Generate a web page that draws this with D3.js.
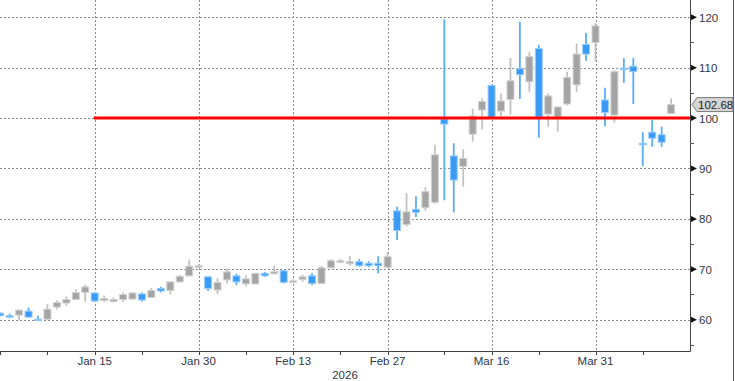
<!DOCTYPE html>
<html><head><meta charset="utf-8">
<script src="https://cdn.jsdelivr.net/npm/d3@7"></script>
<style>
html,body{margin:0;padding:0;background:#fff;}
svg{display:block;font-family:"Liberation Sans",Arial,sans-serif;}
</style></head>
<body>
<svg id="chart" width="735" height="381"></svg>
<script>
const dates = [
"2026-01-01","2026-01-02","2026-01-05","2026-01-06","2026-01-07","2026-01-08","2026-01-09","2026-01-12","2026-01-13","2026-01-14",
"2026-01-15","2026-01-16","2026-01-19","2026-01-20","2026-01-21","2026-01-22","2026-01-23","2026-01-26","2026-01-27","2026-01-28",
"2026-01-29","2026-01-30","2026-02-02","2026-02-03","2026-02-04","2026-02-05","2026-02-06","2026-02-09","2026-02-10","2026-02-11",
"2026-02-12","2026-02-13","2026-02-16","2026-02-17","2026-02-18","2026-02-19","2026-02-20","2026-02-23","2026-02-24","2026-02-25",
"2026-02-26","2026-02-27","2026-03-02","2026-03-03","2026-03-04","2026-03-05","2026-03-06","2026-03-09","2026-03-10","2026-03-11",
"2026-03-12","2026-03-13","2026-03-16","2026-03-17","2026-03-18","2026-03-19","2026-03-20","2026-03-23","2026-03-24","2026-03-25",
"2026-03-26","2026-03-27","2026-03-30","2026-03-31","2026-04-01","2026-04-02","2026-04-03","2026-04-06","2026-04-07","2026-04-08",
"2026-04-09","2026-04-10"];
const open  = [61.3,60.8,60.9,61.7,60.1,60.1,62.5,63.3,64.0,65.4, 65.3,63.8,63.6,64.0,64.1,65.1,64.4,66.2,65.8,67.5,
               68.7,70.6,68.5,65.9,67.9,68.7,67.1,67.1,69.2,69.1, 69.7,67.6,68.0,68.7,67.2,70.3,71.6,71.1,71.5,71.2,
               71.2,70.4,81.6,78.9,81.9,82.2,83.3,99.8,92.5,90.4, 96.8,101.6,106.5,101.4,103.7,109.8,107.2,113.8,100.8,100.2,
               102.8,106.6,114.6,115.0,103.6,100.6,109.9,110.3,95.0,97.2, 96.7,100.9];
const high  = [61.5,61.2,62.0,62.4,60.8,63.1,63.8,64.6,66.0,66.9, 65.4,64.8,64.4,65.4,65.5,65.4,66.3,66.5,67.6,68.9,
               71.9,71.0,68.6,68.2,70.1,69.1,68.8,69.3,69.5,70.7, 69.9,68.0,68.9,69.2,70.7,72.0,72.1,72.6,72.0,71.6,
               72.6,73.4,82.4,85.1,84.5,86.3,94.7,119.6,95.0,93.8, 101.9,103.9,106.6,104.9,111.9,119.1,113.1,114.5,104.9,102.3,
               109.2,114.8,116.9,118.8,106.0,109.5,111.9,111.9,97.2,99.6, 98.3,103.9];
const low   = [60.7,60.3,59.9,60.4,59.9,60.0,62.1,62.8,63.9,63.6, 63.6,63.5,63.4,63.5,63.9,63.6,64.3,65.4,65.0,67.4,
               68.6,70.3,65.7,65.1,67.2,66.9,66.6,67.0,68.5,69.0, 67.2,67.2,67.5,66.9,67.1,70.2,71.2,70.7,70.5,70.4,
               69.2,70.3,75.8,78.5,80.4,81.6,83.0,83.7,81.3,86.4, 95.3,97.8,99.9,100.3,100.6,103.8,105.2,96.1,98.3,97.3,
               102.5,105.2,111.4,111.2,98.4,99.1,107.0,102.8,90.5,94.3, 94.3,100.8];
const close = [60.8,60.7,61.9,60.5,59.95,62.1,63.4,64.0,65.4,66.5, 63.7,64.2,64.0,65.0,65.3,63.9,65.8,65.7,67.5,68.6,
               70.6,70.7,66.2,67.4,69.5,67.5,68.1,69.2,68.7,69.5, 67.4,67.7,68.5,67.2,70.3,71.7,71.7,71.5,70.7,70.7,
               70.7,72.5,77.7,81.4,81.3,85.4,92.7,98.8,87.7,92.0, 100.4,103.3,100.1,103.4,107.4,108.6,112.2,100.2,104.4,102.2,
               108.1,112.7,112.7,118.3,101.1,109.2,109.8,109.2,94.9,96.0, 95.2,102.68];

const majorTickDates  = ["2026-01-15","2026-01-30","2026-02-13","2026-02-27","2026-03-16","2026-03-31"];
const majorTickLabels = ["Jan 15","Jan 30","Feb 13","Feb 27","Mar 16","Mar 31"];
const minorTickDates  = ["2026-01-01","2026-01-08","2026-01-22","2026-02-06","2026-02-20","2026-03-09","2026-03-23","2026-04-07"];
const yearLabel = "2026";
const yMajorTicks = [60,70,80,90,100,110,120];
const yMinorTicks = [55,65,75,85,95,105,115];
const refLevel = [100];
const refStartDate = "2026-01-15";
const lastPrice = close[close.length-1];

const svg = d3.select("#chart");
const plotR = 690, plotB = 351;
const idx = d => dates.indexOf(d);
const x = d3.scaleLinear().domain([0, 73]).range([0.2, plotR]);
const y = d3.scaleLinear().domain([53.79, 123.43]).range([plotB, 0]);

svg.append("defs").append("clipPath").attr("id","clip")
  .append("rect").attr("x",0).attr("y",0).attr("width",plotR).attr("height",plotB);

// gridlines
const grid = svg.append("g");
grid.selectAll("line.h").data(yMajorTicks).join("line")
  .attr("x1",0).attr("x2",plotR).attr("y1",d=>Math.round(y(d))+0.5).attr("y2",d=>Math.round(y(d))+0.5)
  .attr("stroke","#8a8a8a").attr("stroke-width",1).attr("stroke-dasharray","2,2");
grid.selectAll("line.v").data(majorTickDates).join("line")
  .attr("x1",d=>Math.round(x(idx(d)))+0.5).attr("x2",d=>Math.round(x(idx(d)))+0.5).attr("y1",0).attr("y2",plotB)
  .attr("stroke","#8a8a8a").attr("stroke-width",1).attr("stroke-dasharray","2,2");

// candles
const up = i => close[i] >= open[i];
const g = svg.append("g").attr("clip-path","url(#clip)");
const ids = d3.range(dates.length);
g.selectAll("line.wick").data(ids).join("line")
  .attr("x1",i=>x(i)).attr("x2",i=>x(i))
  .attr("y1",i=>y(high[i])).attr("y2",i=>y(low[i]))
  .attr("stroke",i=>up(i)?"#c2c2c2":"#5aabf7").attr("stroke-width",1.8);
g.selectAll("rect.body").data(ids).join("rect")
  .attr("x",i=>x(i)-3.5).attr("width",7)
  .attr("y",i=>y(Math.max(open[i],close[i])))
  .attr("height",i=>Math.max(1.5, Math.abs(y(open[i])-y(close[i]))))
  .attr("fill",i=>up(i)?"#a4a4a4":"#3a9bf6")
  .attr("stroke",i=>up(i)?"#d2d2d2":"#9ccdfb").attr("stroke-width",1);

// reference line
svg.selectAll("line.ref").data(refLevel).join("line")
  .attr("x1",x(idx(refStartDate))-1).attr("x2",plotR)
  .attr("y1",d=>y(d)).attr("y2",d=>y(d))
  .attr("stroke","#ff0000").attr("stroke-width",3);

// axes lines
svg.append("line").attr("x1",0).attr("x2",plotR+0.5).attr("y1",plotB+0.5).attr("y2",plotB+0.5).attr("stroke","#444");
svg.append("line").attr("x1",plotR+0.5).attr("x2",plotR+0.5).attr("y1",0).attr("y2",plotB+0.5).attr("stroke","#444");
svg.append("line").attr("x1",733.5).attr("x2",733.5).attr("y1",0).attr("y2",381).attr("stroke","#555");

// x axis ticks and labels
const txtColor = "#2f3642";
svg.selectAll("line.xmaj").data(majorTickDates).join("line")
  .attr("x1",d=>Math.round(x(idx(d)))+0.5).attr("x2",d=>Math.round(x(idx(d)))+0.5)
  .attr("y1",plotB).attr("y2",plotB+4).attr("stroke","#444");
svg.selectAll("line.xmin").data(minorTickDates).join("line")
  .attr("x1",d=>Math.round(x(idx(d)))+0.5).attr("x2",d=>Math.round(x(idx(d)))+0.5)
  .attr("y1",plotB).attr("y2",plotB+4).attr("stroke","#444");
svg.selectAll("text.xl").data(majorTickDates).join("text")
  .attr("x",d=>x(idx(d))).attr("y",365).attr("text-anchor","middle")
  .attr("font-size","11.5px").attr("fill",txtColor).text((d,i)=>majorTickLabels[i]);
svg.append("text").attr("x",plotR/2).attr("y",379).attr("text-anchor","middle")
  .attr("font-size","11.5px").attr("fill",txtColor).text(yearLabel);

// y axis ticks
svg.selectAll("path.ytri").data(yMajorTicks).join("path")
  .attr("d",d=>{const yy=y(d);return `M${plotR+1},${yy-3}L${plotR+7},${yy}L${plotR+1},${yy+3}Z`;})
  .attr("fill","#111");
svg.selectAll("line.ymin").data(yMinorTicks).join("line")
  .attr("x1",plotR).attr("x2",plotR+4).attr("y1",d=>Math.round(y(d))+0.5).attr("y2",d=>Math.round(y(d))+0.5)
  .attr("stroke","#555");
svg.selectAll("text.yl").data(yMajorTicks).join("text")
  .attr("x",699).attr("y",d=>y(d)+4.5)
  .attr("font-size","11.5px").attr("fill",txtColor).text(d=>d);

// last price label
const ly = y(lastPrice);
svg.append("path")
  .attr("d",`M${plotR+2},${ly}L${plotR+7},${ly-7}L733,${ly-7}L733,${ly+7}L${plotR+7},${ly+7}Z`)
  .attr("fill","#d5d5d5").attr("stroke","#7a7a7a").attr("stroke-width",1);
svg.append("text").attr("x",698).attr("y",ly+4.5)
  .attr("font-size","11.5px").attr("fill","#222").text(lastPrice.toFixed(2));
</script>
</body></html>
